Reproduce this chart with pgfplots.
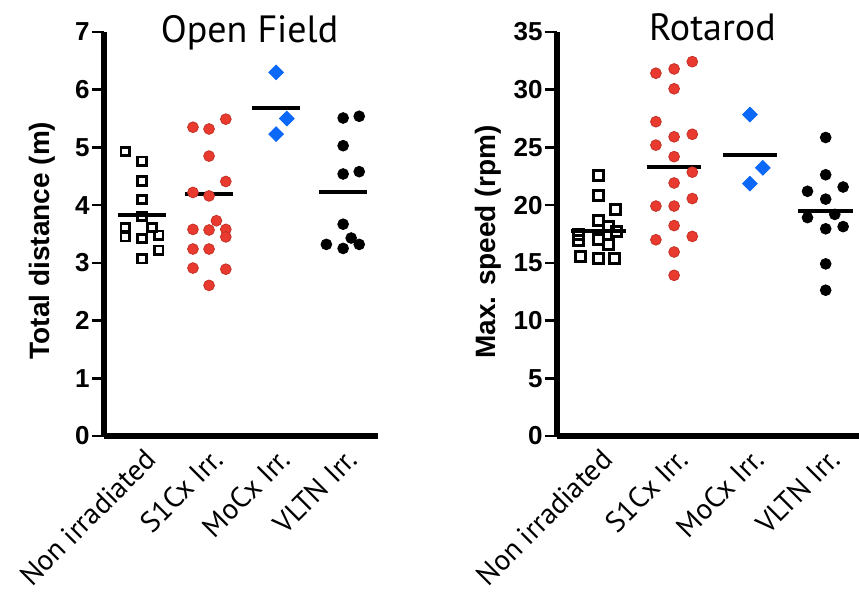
\documentclass[border=0pt]{standalone}
\usepackage{pgfplots}
\pgfplotsset{compat=1.18}
\usepackage{fontspec}
\setmainfont{PT Sans}
\newfontfamily\arial{Liberation Sans}

\definecolor{dotred}{RGB}{232,58,46}
\definecolor{dotblue}{RGB}{12,104,246}

\pgfplotsset{
  panel/.style={
    scale only axis,
    height=202pt,
    ymin=0,
    axis x line=bottom, axis y line=left,
    axis line style={-, line width=2.8pt, black},
    xtick={0,1,2,3},
    xticklabels={Non irradiated, S1Cx Irr., MoCx Irr., VLTN Irr.},
    x tick style={draw=none},
    y tick style={line width=1.3pt, black},
    tick align=outside,
    major tick length=6pt,
    /pgf/number format/assume math mode=true,
    y tick label style={font=\arial\bfseries\fontsize{13}{13}\selectfont, inner xsep=1pt},
    x tick label style={font=\fontsize{14.5}{14.5}\selectfont, rotate=45, anchor=north east, inner sep=0pt, xshift=1pt},
    ylabel style={font=\arial\bfseries\fontsize{14}{14}\selectfont},
    clip=false,
  },
  sq/.style={only marks, mark=square, mark size=2.1pt, mark options={line width=1.4pt, black}},
  rd/.style={only marks, mark=*, mark size=2.7pt, mark options={fill=dotred, draw=dotred!85!black, line width=0.4pt}},
  bl/.style={only marks, mark=square*, mark size=2.6pt, mark options={rotate=45, fill=dotblue, draw=dotblue}},
  bk/.style={only marks, mark=*, mark size=2.7pt, mark options={fill=black, draw=black}},
  mean/.style={no marks, black, line width=2pt},
}

\begin{document}
\begin{tikzpicture}

% Open Field
\begin{axis}[panel,
  at={(0pt,0pt)}, anchor=south west,
  width=137pt,
  xmin=-0.567, xmax=3.52,
  ymax=7, ytick={0,1,...,7},
  ylabel={Total distance (m)},
  ylabel style={at={(axis description cs:-0.226,0.484)}, anchor=center},
]
\addplot[sq] coordinates {
  (-0.25,4.93) (0,4.76) (0,4.42) (0,4.10) (0,3.80) (-0.25,3.61)
  (0.15,3.61) (0.25,3.48) (-0.25,3.45) (0,3.42) (0.25,3.22) (0,3.07)
};
\addplot[rd] coordinates {
  (0.76,5.35) (1,5.32) (1.25,5.49) (1,4.85) (1.25,4.41) (0.76,4.22)
  (1,4.16) (1.11,3.73) (0.76,3.58) (1,3.57) (1.25,3.58) (1.25,3.45)
  (0.76,3.24) (1,3.24) (0.76,2.91) (1.25,2.89) (1,2.61)
};
\addplot[bl] coordinates {(2,6.30) (2.16,5.50) (2,5.23)};
\addplot[bk] coordinates {
  (3,5.51) (3.24,5.54) (3,5.03) (3,4.54) (3.24,4.58) (3,3.67)
  (2.75,3.32) (3.12,3.43) (3.24,3.32) (3,3.25)
};
\addplot[mean] coordinates {(-0.36,3.83) (0.36,3.83)};
\addplot[mean] coordinates {(0.64,4.20) (1.36,4.20)};
\addplot[mean] coordinates {(1.64,5.68) (2.36,5.68)};
\addplot[mean] coordinates {(2.64,4.22) (3.36,4.22)};
\node[font=\fontsize{19}{19}\selectfont, anchor=base] at (axis description cs:0.531,0.973) {Open Field};
\end{axis}

% Rotarod
\begin{axis}[panel,
  at={(226.5pt,0pt)}, anchor=south west,
  width=153.3pt,
  xmin=-0.545, xmax=3.5,
  ymax=35, ytick={0,5,...,35},
  ylabel={Max. speed (rpm)},
  ylabel style={at={(axis description cs:-0.225,0.48)}, anchor=center},
]
\addplot[mean] coordinates {(-0.36,17.8) (0.36,17.8)};
\addplot[sq, mark size=2.5pt, mark options={line width=1.5pt, black}] coordinates {
  (0,22.57) (0,20.8) (0.23,19.58) (0,18.63) (0.13,18.14) (0.24,17.72)
  (-0.26,17.49) (0,17.0) (-0.26,16.9) (0.13,16.55) (-0.24,15.57)
  (0,15.37) (0.22,15.37)
};
\addplot[rd] coordinates {
  (0.76,31.43) (1,31.8) (1.24,32.43) (1,30.08) (0.76,27.23) (1,25.92)
  (1.24,26.14) (0.76,25.2) (1,24.2) (1.24,22.86) (1,21.92) (1.24,20.57)
  (0.76,19.92) (1,19.92) (1,18.23) (0.76,17.0) (1.24,17.29) (1,15.94)
  (1,13.92)
};
\addplot[bl] coordinates {(2,27.85) (2.17,23.23) (2,21.86)};
\addplot[bk] coordinates {
  (3,25.86) (3,22.63) (2.76,21.2) (3.23,21.57) (3,20.52) (2.76,18.92)
  (3.12,19.2) (3.23,18.14) (3,17.95) (3,14.91) (3,12.63)
};
\addplot[mean] coordinates {(0.64,23.29) (1.36,23.29)};
\addplot[mean] coordinates {(1.64,24.34) (2.36,24.34)};
\addplot[mean] coordinates {(2.64,19.49) (3.36,19.49)};
\node[font=\fontsize{19}{19}\selectfont, anchor=base] at (axis description cs:0.507,0.978) {Rotarod};
\end{axis}

\pgfresetboundingbox
\path[use as bounding box] (-52pt,-81.5pt) rectangle (377.5pt,218pt);
\end{tikzpicture}
\end{document}
